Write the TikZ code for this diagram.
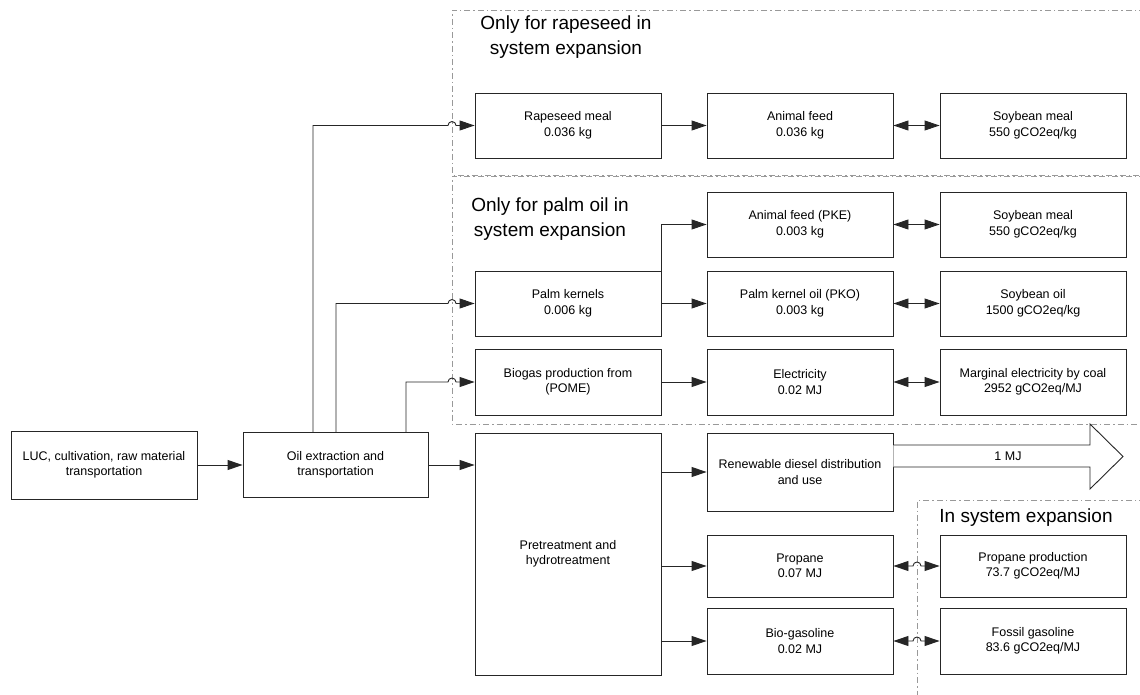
\documentclass[tikz,border=0pt]{standalone}
\usepackage{fontspec}
\setmainfont{Liberation Sans}
\usetikzlibrary{arrows.meta,calc}
\begin{document}
\begin{tikzpicture}[x=1pt,y=-1pt,
 box/.style={draw=black!85,line width=0.9pt,minimum width=186pt,inner sep=2pt,align=center,font=\fontsize{12.5}{15.5}\selectfont},
 conn/.style={line width=0.9pt,draw=black!85},
 arr/.style={conn,-{Triangle[length=15pt,width=10pt]}},
 darr/.style={conn,{Triangle[length=15pt,width=10pt]}-{Triangle[length=15pt,width=10pt]}},
 region/.style={draw=black!40,line width=0.8pt,dash pattern=on 6pt off 3pt on 1.5pt off 3pt},
 rlabel/.style={align=center,font=\fontsize{19}{24.5}\selectfont,inner sep=0pt},
 flow/.style={draw=black!85,line width=0.9pt,fill=white}
]
\useasboundingbox (0,0) rectangle (1140,695);

% regions
\draw[region] (1145,10) -- (452,10) -- (452,175) -- (1145,175);
\draw[region] (1145,176) -- (452,176) -- (452,424) -- (1145,424);
\draw[region] (1145,500) -- (917,500) -- (917,700);
\coordinate (hx) at (452,0);
\coordinate (hy) at (917,0);

\node[rlabel] (t1) at (566,37) {Only for rapeseed in\\system expansion};
\node[rlabel] (t2) at (550,219) {Only for palm oil in\\system expansion};
\node[rlabel] (t3) at (1026,518) {In system expansion};

% boxes
\node[box,minimum height=68pt] (luc) at (104,465) {LUC, cultivation, raw material\\transportation};
\node[box,minimum width=185pt,minimum height=65pt] (oil) at (335.5,465) {Oil extraction and\\transportation};
\node[box,minimum height=242pt] (pre) at (568,554) {Pretreatment and\\hydrotreatment};

\node[box,minimum height=65pt] (rape) at (568,125.5) {Rapeseed meal\\0.036 kg};
\node[box,minimum height=65pt] (feed) at (800,125.5) {Animal feed\\0.036 kg};
\node[box,minimum height=65pt] (soy1) at (1033,125.5) {Soybean meal\\550 gCO2eq/kg};

\node[box,minimum height=65pt] (pke) at (800,224.5) {Animal feed (PKE)\\0.003 kg};
\node[box,minimum height=65pt] (soy2) at (1033,224.5) {Soybean meal\\550 gCO2eq/kg};

\node[box,minimum height=65pt] (pk) at (568,303.5) {Palm kernels\\0.006 kg};
\node[box,minimum height=65pt] (pko) at (800,303.5) {Palm kernel oil (PKO)\\0.003 kg};
\node[box,minimum height=65pt] (soyo) at (1033,303.5) {Soybean oil\\1500 gCO2eq/kg};

\node[box,minimum height=66pt] (bio) at (568,382) {Biogas production from\\(POME)};
\node[box,minimum height=66pt] (el) at (800,382) {Electricity\\0.02 MJ};
\node[box,minimum height=66pt] (mel) at (1033,382) {Marginal electricity by coal\\2952 gCO2eq/MJ};

\node[box,minimum height=78pt] (rd) at (800,472) {Renewable diesel distribution\\and use};
\node[box,minimum height=62pt] (prop) at (800,566) {Propane\\0.07 MJ};
\node[box,minimum height=62pt] (pprod) at (1033,566) {Propane production\\73.7 gCO2eq/MJ};
\node[box,minimum height=66pt] (bg) at (800,641) {Bio-gasoline\\0.02 MJ};
\node[box,minimum height=66pt] (fg) at (1033,641) {Fossil gasoline\\83.6 gCO2eq/MJ};

% big output arrow
\draw[flow] (rd.east |- 0,445) -- (1090,445) -- (1090,424) -- (1123,456.5) -- (1090,489) -- (1090,467) -- (rd.east |- 0,467);
\node[font=\fontsize{12.5}{15}\selectfont] (mj) at (1008,456) {1 MJ};

% main chain
\draw[arr] (luc) -- (oil);
\draw[arr] (oil) -- (oil -| pre.west);
\draw[arr] (rd.west -| pre.east) -- (rd.west);
\draw[arr] (prop.west -| pre.east) -- (prop.west);
\draw[arr] (bg.west -| pre.east) -- (bg.west);

% from oil extraction upward (with line jumps)
\draw[arr] (oil.north -| 313,0) |- ([xshift=-4pt]rape.west -| hx) arc[start angle=180,end angle=0,radius=4pt] -- (rape.west);
\draw[arr] (oil.north -| 336,0) |- ([xshift=-4pt]pk.west -| hx) arc[start angle=180,end angle=0,radius=4pt] -- (pk.west);
\draw[arr] (oil.north -| 406,0) |- ([xshift=-4pt]bio.west -| hx) arc[start angle=180,end angle=0,radius=4pt] -- (bio.west);

% palm kernels branch
\draw[arr] (pk.east) -- (pko.west);
\draw[arr] (pk.east) |- (pke.west);
\draw[arr] (rape) -- (feed);
\draw[arr] (bio) -- (el);

% substitution double arrows
\draw[darr] (feed) -- (soy1);
\draw[darr] (pke) -- (soy2);
\draw[darr] (pko) -- (soyo);
\draw[darr] (el) -- (mel);
\draw[darr] (prop.east) -- ([xshift=-4pt]prop.east -| hy) arc[start angle=180,end angle=0,radius=4pt] -- (pprod.west);
\draw[darr] (bg.east) -- ([xshift=-4pt]bg.east -| hy) arc[start angle=180,end angle=0,radius=4pt] -- (fg.west);
\end{tikzpicture}
\end{document}
